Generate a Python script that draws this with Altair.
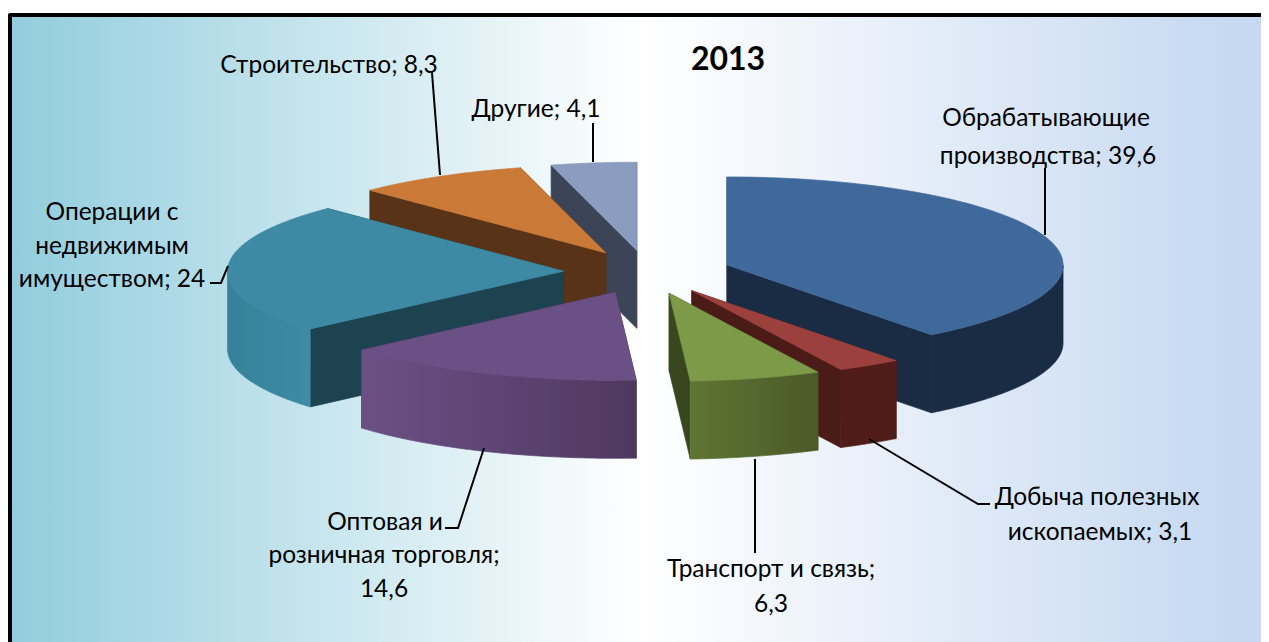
import numpy as np
import altair as alt

# ---- data ----
categories = ["Обрабатывающие производства", "Добыча полезных ископаемых", "Транспорт и связь",
              "Оптовая и розничная торговля", "Операции с недвижимым имуществом", "Строительство", "Другие"]
values = [39.6, 3.1, 6.3, 14.6, 24.0, 8.3, 4.1]
title_text = "2013"
label_lines = [
    ["Обрабатывающие", "производства; 39,6"],
    ["Добыча полезных", "ископаемых; 3,1"],
    ["Транспорт и связь;", "6,3"],
    ["Оптовая и", "розничная торговля;", "14,6"],
    ["Операции с", "недвижимым", "имуществом; 24"],
    ["Строительство; 8,3"],
    ["Другие; 4,1"],
]

# ---- layout and style (page pixels minus the 8px margin) ----
W, H = 1253, 634
OX, OY = 8, 8
CX, CY, RX, RY, DEPTH, EXPLODE = 647.5, 272.0, 336.0, 88.0, 78.0, 0.25
FONT = "Lato"
FS = 24.5
top_col = ["#3F699A", "#9B403D", "#7D9A48", "#6A5084", "#3E8AA4", "#CA7A36", "#8A9CC0"]
side_col = ["#1A2C44", "#4B1B18", "#39471E", "#3A2A4A", "#1C434F", "#593317", "#3C4558"]
outer_col = [("#1A2C44", "#1A2C44"), ("#4F1C1A", "#4F1C1A"), ("#5F7534", "#4A5A28"),
             ("#6B5085", "#4F3860"), ("#37819A", "#3E8BA5"), None, None]
paint_order = [0, 6, 5, 4, 3, 1, 2]
label_pos = [
    [(1046, 119), (1048, 157)],
    [(1097, 498), (1100, 533)],
    [(771, 570), (771, 605)],
    [(385, 523), (384, 556), (384, 590)],
    [(112, 213), (112, 247), (112, 280)],
    [(329, 66)],
    [(536, 110)],
]
leaders = [
    [(1045, 168), (1045, 235)],
    [(869, 439), (978, 504), (990, 504)],
    [(755, 459), (755, 553)],
    [(445, 528), (458, 528), (484, 448)],
    [(210, 283), (221, 283), (228, 266)],
    [(432, 73), (440, 175)],
    [(593, 123), (593, 162)],
]

frac = np.cumsum([0] + values) / sum(values)
angles = frac * 2 * np.pi


def ring(points):
    pts = [[float(x), float(y)] for x, y in points]
    return pts + [pts[0]]


def feature(points):
    return {"type": "Feature", "properties": {}, "geometry": {"type": "Polygon", "coordinates": [ring(points)]}}


def shape(points, fill):
    return alt.Chart(alt.Data(values=[feature(points)])).mark_geoshape(fill=fill, stroke=fill, strokeWidth=0.7)


def grad(c1, c2):
    return alt.Gradient(gradient="linear", x1=0, x2=1, y1=0, y2=0,
                        stops=[alt.GradientStop(color=c1, offset=0), alt.GradientStop(color=c2, offset=1)])


layers = []

# background
one = alt.Data(values=[{"k": 1}])
layers.append(alt.Chart(one).mark_rect(color="black", cornerRadius=2).encode(
    x=alt.value(0), x2=alt.value(W + 20), y=alt.value(5), y2=alt.value(H + 10)))
layers.append(alt.Chart(one).mark_rect(fill=alt.Gradient(
    gradient="linear", x1=0, x2=1, y1=0, y2=0,
    stops=[alt.GradientStop(color="#92CDDD", offset=0),
           alt.GradientStop(color="#FFFFFF", offset=0.5),
           alt.GradientStop(color="#C6D9F1", offset=0.97),
           alt.GradientStop(color="#C6D9F1", offset=1)])).encode(
    x=alt.value(4), x2=alt.value(1261), y=alt.value(9), y2=alt.value(H + 10)))

# slices, painted back to front
for i in paint_order:
    a0, a1 = angles[i], angles[i + 1]
    mid = (a0 + a1) / 2
    cx = CX + EXPLODE * RX * np.sin(mid) - OX
    cy = CY - EXPLODE * RY * np.cos(mid) - OY
    ts = np.linspace(a0, a1, 80)
    arc = [(cx + RX * np.sin(t), cy - RY * np.cos(t)) for t in ts]
    for t in (a0, a1):
        p = (cx + RX * np.sin(t), cy - RY * np.cos(t))
        layers.append(shape([(cx, cy), p, (p[0], p[1] + DEPTH), (cx, cy + DEPTH)], side_col[i]))
    if outer_col[i]:
        lo, hi = max(a0, np.pi / 2), min(a1, 3 * np.pi / 2)
        tw = np.linspace(lo, hi, 80)
        upper = [(cx + RX * np.sin(t), cy - RY * np.cos(t)) for t in tw]
        lower = [(x, y + DEPTH) for x, y in upper][::-1]
        layers.append(shape(upper + lower, grad(*outer_col[i])))
    layers.append(shape([(cx, cy)] + arc, top_col[i]))

# leader lines
rows = []
for k, pts in enumerate(leaders):
    for j, (x, y) in enumerate(pts):
        rows.append({"px": x - OX, "py": y - OY, "leader": k, "o": j})
layers.append(alt.Chart(alt.Data(values=rows)).mark_line(color="black", strokeWidth=2).encode(
    x=alt.X("px:Q", scale=None, axis=None), y=alt.Y("py:Q", scale=None, axis=None),
    detail="leader:N", order="o:Q"))

# labels
trows = []
for lines, poss in zip(label_lines, label_pos):
    for t, (x, y) in zip(lines, poss):
        trows.append({"px": x - OX, "py": y - OY, "t": t})
layers.append(alt.Chart(alt.Data(values=trows)).mark_text(
    font=FONT, fontSize=FS, color="black", align="center", baseline="middle").encode(
    x=alt.X("px:Q", scale=None, axis=None), y=alt.Y("py:Q", scale=None, axis=None), text="t:N"))
layers.append(alt.Chart(alt.Data(values=[{"px": 728 - OX, "py": 60 - OY, "t": title_text}])).mark_text(
    font=FONT, fontSize=32, fontWeight="bold", color="black", align="center", baseline="middle").encode(
    x=alt.X("px:Q", scale=None, axis=None), y=alt.Y("py:Q", scale=None, axis=None), text="t:N"))

chart = alt.layer(*layers).project(type="identity", scale=1, translate=[0, 0]).properties(
    width=W, height=H, padding=0, autosize=alt.AutoSizeParams(type="none"), background="white"
).configure_view(strokeWidth=0)

chart.save("out.html", embed_options={"renderer": "svg", "actions": False})
